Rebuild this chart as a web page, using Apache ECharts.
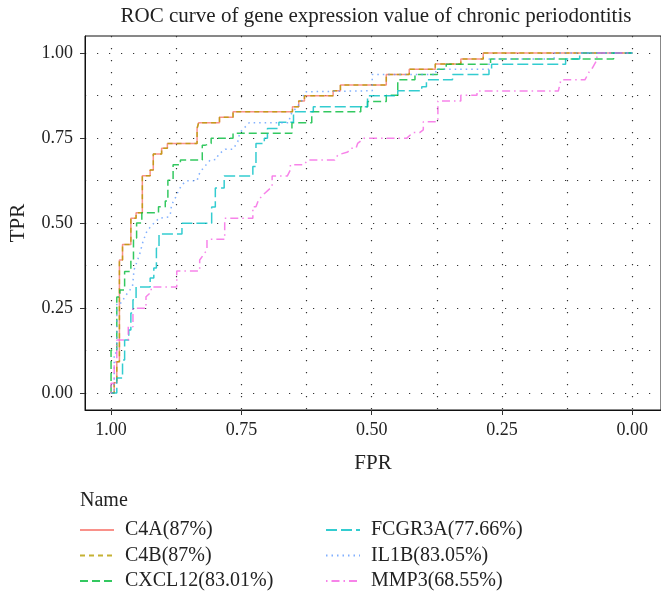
<!DOCTYPE html>
<html><head><meta charset="utf-8">
<script src="https://cdn.jsdelivr.net/npm/echarts@6/dist/echarts.min.js"></script>
<style>html,body{margin:0;padding:0;background:#fff}#c{width:661px;height:595px}</style>
</head><body><div id="c"></div>
<script>
// ---- data (specificity shown on reversed FPR axis, TPR) ----
const seriesNames = ['C4A(87%)','C4B(87%)','CXCL12(83.01%)','FCGR3A(77.66%)','IL1B(83.05%)','MMP3(68.55%)'];
const xTicks = [0, 0.25, 0.5, 0.75, 1];
const xMinor = [0.125, 0.375, 0.625, 0.875];
const yTicks = [0, 0.25, 0.5, 0.75, 1];
const yMinor = [0.125, 0.375, 0.625, 0.875];

const c4aSpec = [1,0.994,0.994,0.989,0.989,0.984,0.984,0.978,0.978,0.962,0.962,0.952,0.952,0.940,0.940,0.925,0.925,0.919,0.919,0.903,0.903,0.892,0.892,0.835,0.835,0.832,0.832,0.792,0.792,0.766,0.766,0.652,0.652,0.640,0.640,0.629,0.629,0.574,0.574,0.560,0.560,0.472,0.472,0.428,0.428,0.378,0.378,0.329,0.329,0.286,0.286,0];
const c4aSens = [0,0,0.03,0.03,0.092,0.092,0.391,0.391,0.437,0.437,0.514,0.514,0.53,0.53,0.639,0.639,0.656,0.656,0.703,0.703,0.72,0.72,0.734,0.734,0.778,0.778,0.795,0.795,0.811,0.811,0.827,0.827,0.842,0.842,0.859,0.859,0.874,0.874,0.889,0.889,0.906,0.906,0.937,0.937,0.952,0.952,0.968,0.968,0.982,0.982,1,1];
const c4bSpec = c4aSpec.slice();
const c4bSens = c4aSens.slice();

const cxcl12Spec = [1,1,0.989,0.989,0.983,0.983,0.974,0.974,0.962,0.962,0.957,0.957,0.951,0.951,0.941,0.941,0.909,0.909,0.896,0.896,0.891,0.891,0.881,0.881,0.867,0.867,0.825,0.825,0.819,0.819,0.808,0.808,0.766,0.766,0.653,0.653,0.615,0.615,0.521,0.521,0.508,0.508,0.472,0.472,0.450,0.450,0.417,0.417,0.374,0.374,0.357,0.357,0.272,0.272,0.036,0.036,0];
const cxcl12Sens = [0,0.126,0.126,0.282,0.282,0.303,0.303,0.357,0.357,0.391,0.391,0.456,0.456,0.5,0.5,0.53,0.53,0.548,0.548,0.565,0.565,0.626,0.626,0.671,0.671,0.685,0.685,0.729,0.729,0.734,0.734,0.749,0.749,0.764,0.764,0.795,0.795,0.827,0.827,0.842,0.842,0.857,0.857,0.876,0.876,0.921,0.921,0.937,0.937,0.952,0.952,0.967,0.967,0.982,0.982,1,1];

const fcgr3aSpec = [1,0.989,0.989,0.978,0.978,0.974,0.974,0.966,0.966,0.962,0.962,0.958,0.958,0.952,0.952,0.925,0.925,0.918,0.918,0.913,0.913,0.908,0.908,0.864,0.864,0.807,0.807,0.800,0.800,0.783,0.783,0.728,0.728,0.722,0.722,0.706,0.706,0.700,0.700,0.678,0.678,0.650,0.650,0.612,0.612,0.508,0.508,0.450,0.450,0.404,0.404,0.395,0.395,0.345,0.345,0.275,0.275,0.270,0.270,0.128,0.128,0.101,0.101,0];
const fcgr3aSens = [0,0,0.044,0.044,0.097,0.097,0.156,0.156,0.185,0.185,0.235,0.235,0.274,0.274,0.312,0.312,0.338,0.338,0.368,0.368,0.426,0.426,0.468,0.468,0.499,0.499,0.547,0.547,0.603,0.603,0.638,0.638,0.666,0.666,0.734,0.734,0.749,0.749,0.778,0.778,0.796,0.796,0.827,0.827,0.842,0.842,0.874,0.874,0.889,0.889,0.901,0.901,0.921,0.921,0.937,0.937,0.952,0.952,0.967,0.967,0.982,0.982,1,1];

const il1bSpec = [1,0.994,0.994,0.989,0.989,0.980,0.974,0.967,0.959,0.958,0.956,0.952,0.945,0.939,0.933,0.930,0.918,0.908,0.889,0.886,0.884,0.876,0.870,0.864,0.856,0.835,0.832,0.826,0.810,0.798,0.794,0.781,0.766,0.757,0.755,0.751,0.735,0.659,0.656,0.643,0.635,0.628,0.499,0.499,0.377,0.377,0.275,0.275,0.150,0.150,0];
const il1bSens = [0,0,0.118,0.118,0.265,0.265,0.282,0.297,0.312,0.327,0.362,0.379,0.409,0.444,0.470,0.479,0.499,0.514,0.518,0.529,0.553,0.576,0.597,0.612,0.624,0.624,0.641,0.656,0.685,0.687,0.702,0.717,0.717,0.739,0.754,0.769,0.795,0.795,0.818,0.842,0.857,0.886,0.889,0.937,0.937,0.952,0.952,0.982,0.982,1,1];

const mmp3Spec = [1,1,0.994,0.994,0.989,0.989,0.967,0.967,0.958,0.958,0.933,0.933,0.923,0.923,0.874,0.874,0.830,0.830,0.823,0.816,0.816,0.810,0.782,0.782,0.728,0.728,0.722,0.717,0.709,0.691,0.691,0.662,0.656,0.656,0.630,0.623,0.571,0.565,0.546,0.540,0.530,0.527,0.515,0.433,0.426,0.421,0.408,0.401,0.401,0.373,0.373,0.329,0.329,0.298,0.298,0.142,0.137,0.091,0.083,0.077,0.068,0.068,0];
const mmp3Sens = [0,0.029,0.029,0.091,0.091,0.156,0.156,0.195,0.195,0.249,0.249,0.283,0.297,0.312,0.312,0.359,0.359,0.391,0.406,0.421,0.450,0.452,0.452,0.514,0.514,0.548,0.548,0.568,0.582,0.607,0.638,0.638,0.656,0.671,0.671,0.685,0.685,0.700,0.709,0.720,0.720,0.734,0.749,0.749,0.759,0.766,0.766,0.774,0.798,0.798,0.859,0.859,0.876,0.876,0.888,0.888,0.921,0.921,0.944,0.955,0.979,1,1];

// ---- styling ----
const FONT = '"Liberation Serif", "DejaVu Serif", serif';
const colors = ['#F8766D','#B79F00','#00BA38','#00BFC4','#619CFF','#F564E3'];
const dashes = ['solid',[5,4],[8,4],[11,4],[1.5,4],[1.5,4,8,4]];
const specs = [c4aSpec,c4bSpec,cxcl12Spec,fcgr3aSpec,il1bSpec,mmp3Spec];
const senss = [c4aSens,c4bSens,cxcl12Sens,fcgr3aSens,il1bSens,mmp3Sens];

function zip(a,b){const n=Math.min(a.length,b.length);const r=[];for(let i=0;i<n;i++)r.push([a[i],b[i]]);return r;}

const dotted = {color:'#333', width:1.2, type:[1.2,10.8]};
const fmt = v => v.toFixed(2);
const TXT = '#222';
const X_MIN = -0.055, X_MAX = 1.05, Y_MIN = -0.05, Y_MAX = 1.05;

const series = seriesNames.map((name,i)=>({
  name, type:'line', data: zip(specs[i],senss[i]), symbol:'none', showSymbol:false,
  xAxisIndex:0, yAxisIndex:0, silent:true, animation:false,
  lineStyle:{color:colors[i], width:1.5, type:dashes[i], opacity:0.8},
  itemStyle:{color:colors[i]}
}));

const legendBase = {orient:'vertical', top:520, height:90, padding:0, itemWidth:34, itemHeight:14, itemGap:5.5,
  itemStyle:{color:'transparent', borderColor:'transparent', borderWidth:0},
  textStyle:{fontFamily:FONT, fontSize:20, color:TXT, lineHeight:20, padding:[0,0,0,6]}, selectedMode:false};

const chart = echarts.init(document.getElementById('c'), null, {renderer:'canvas'});
chart.setOption({
  animation:false,
  textStyle:{fontFamily:FONT},
  title:[
    {text:'ROC curve of gene expression value of chronic periodontitis', left:371, top:1, textAlign:'center',
     textStyle:{fontFamily:FONT, fontSize:21, fontWeight:'normal', color:TXT}},
    {text:'Name', left:80, top:491, padding:0, textStyle:{fontFamily:FONT, fontSize:20, fontWeight:'normal', color:TXT}}
  ],
  grid:{left:80, top:36, width:586, height:374, show:true, borderColor:'#111', borderWidth:1, containLabel:false},
  xAxis:[
    {type:'value', inverse:true, min:X_MIN, max:X_MAX, gridIndex:0,
     name:'FPR', nameLocation:'middle', nameGap:43, nameTextStyle:{fontFamily:FONT, fontSize:21, color:TXT},
     axisLine:{show:true, onZero:false, lineStyle:{color:'#111', width:1}},
     axisTick:{show:true, length:5, customValues:xTicks, lineStyle:{color:'#333'}},
     axisLabel:{customValues:xTicks, formatter:fmt, fontFamily:FONT, fontSize:18, color:TXT, margin:11},
     splitLine:{show:true, lineStyle:dotted}},
    {type:'value', inverse:true, min:X_MIN, max:X_MAX, gridIndex:0, position:'bottom',
     axisLine:{show:false, onZero:false}, axisTick:{show:false, customValues:xMinor}, axisLabel:{show:false, customValues:xMinor},
     splitLine:{show:true, lineStyle:dotted}}
  ],
  yAxis:[
    {type:'value', min:Y_MIN, max:Y_MAX, gridIndex:0,
     name:'TPR', nameLocation:'middle', nameGap:56, nameTextStyle:{fontFamily:FONT, fontSize:21, color:TXT},
     axisLine:{show:true, onZero:false, lineStyle:{color:'#111', width:1}},
     axisTick:{show:true, length:5, customValues:yTicks, lineStyle:{color:'#333'}},
     axisLabel:{customValues:yTicks, formatter:fmt, fontFamily:FONT, fontSize:18, color:TXT, margin:12},
     splitLine:{show:true, lineStyle:dotted}},
    {type:'value', min:Y_MIN, max:Y_MAX, gridIndex:0, position:'left',
     axisLine:{show:false, onZero:false}, axisTick:{show:false, customValues:yMinor}, axisLabel:{show:false, customValues:yMinor},
     splitLine:{show:true, lineStyle:dotted}}
  ],
  legend:[
    Object.assign({}, legendBase, {data:seriesNames.slice(0,3), left:79}),
    Object.assign({}, legendBase, {data:seriesNames.slice(3,6), left:325})
  ],
  series
});
</script></body></html>
